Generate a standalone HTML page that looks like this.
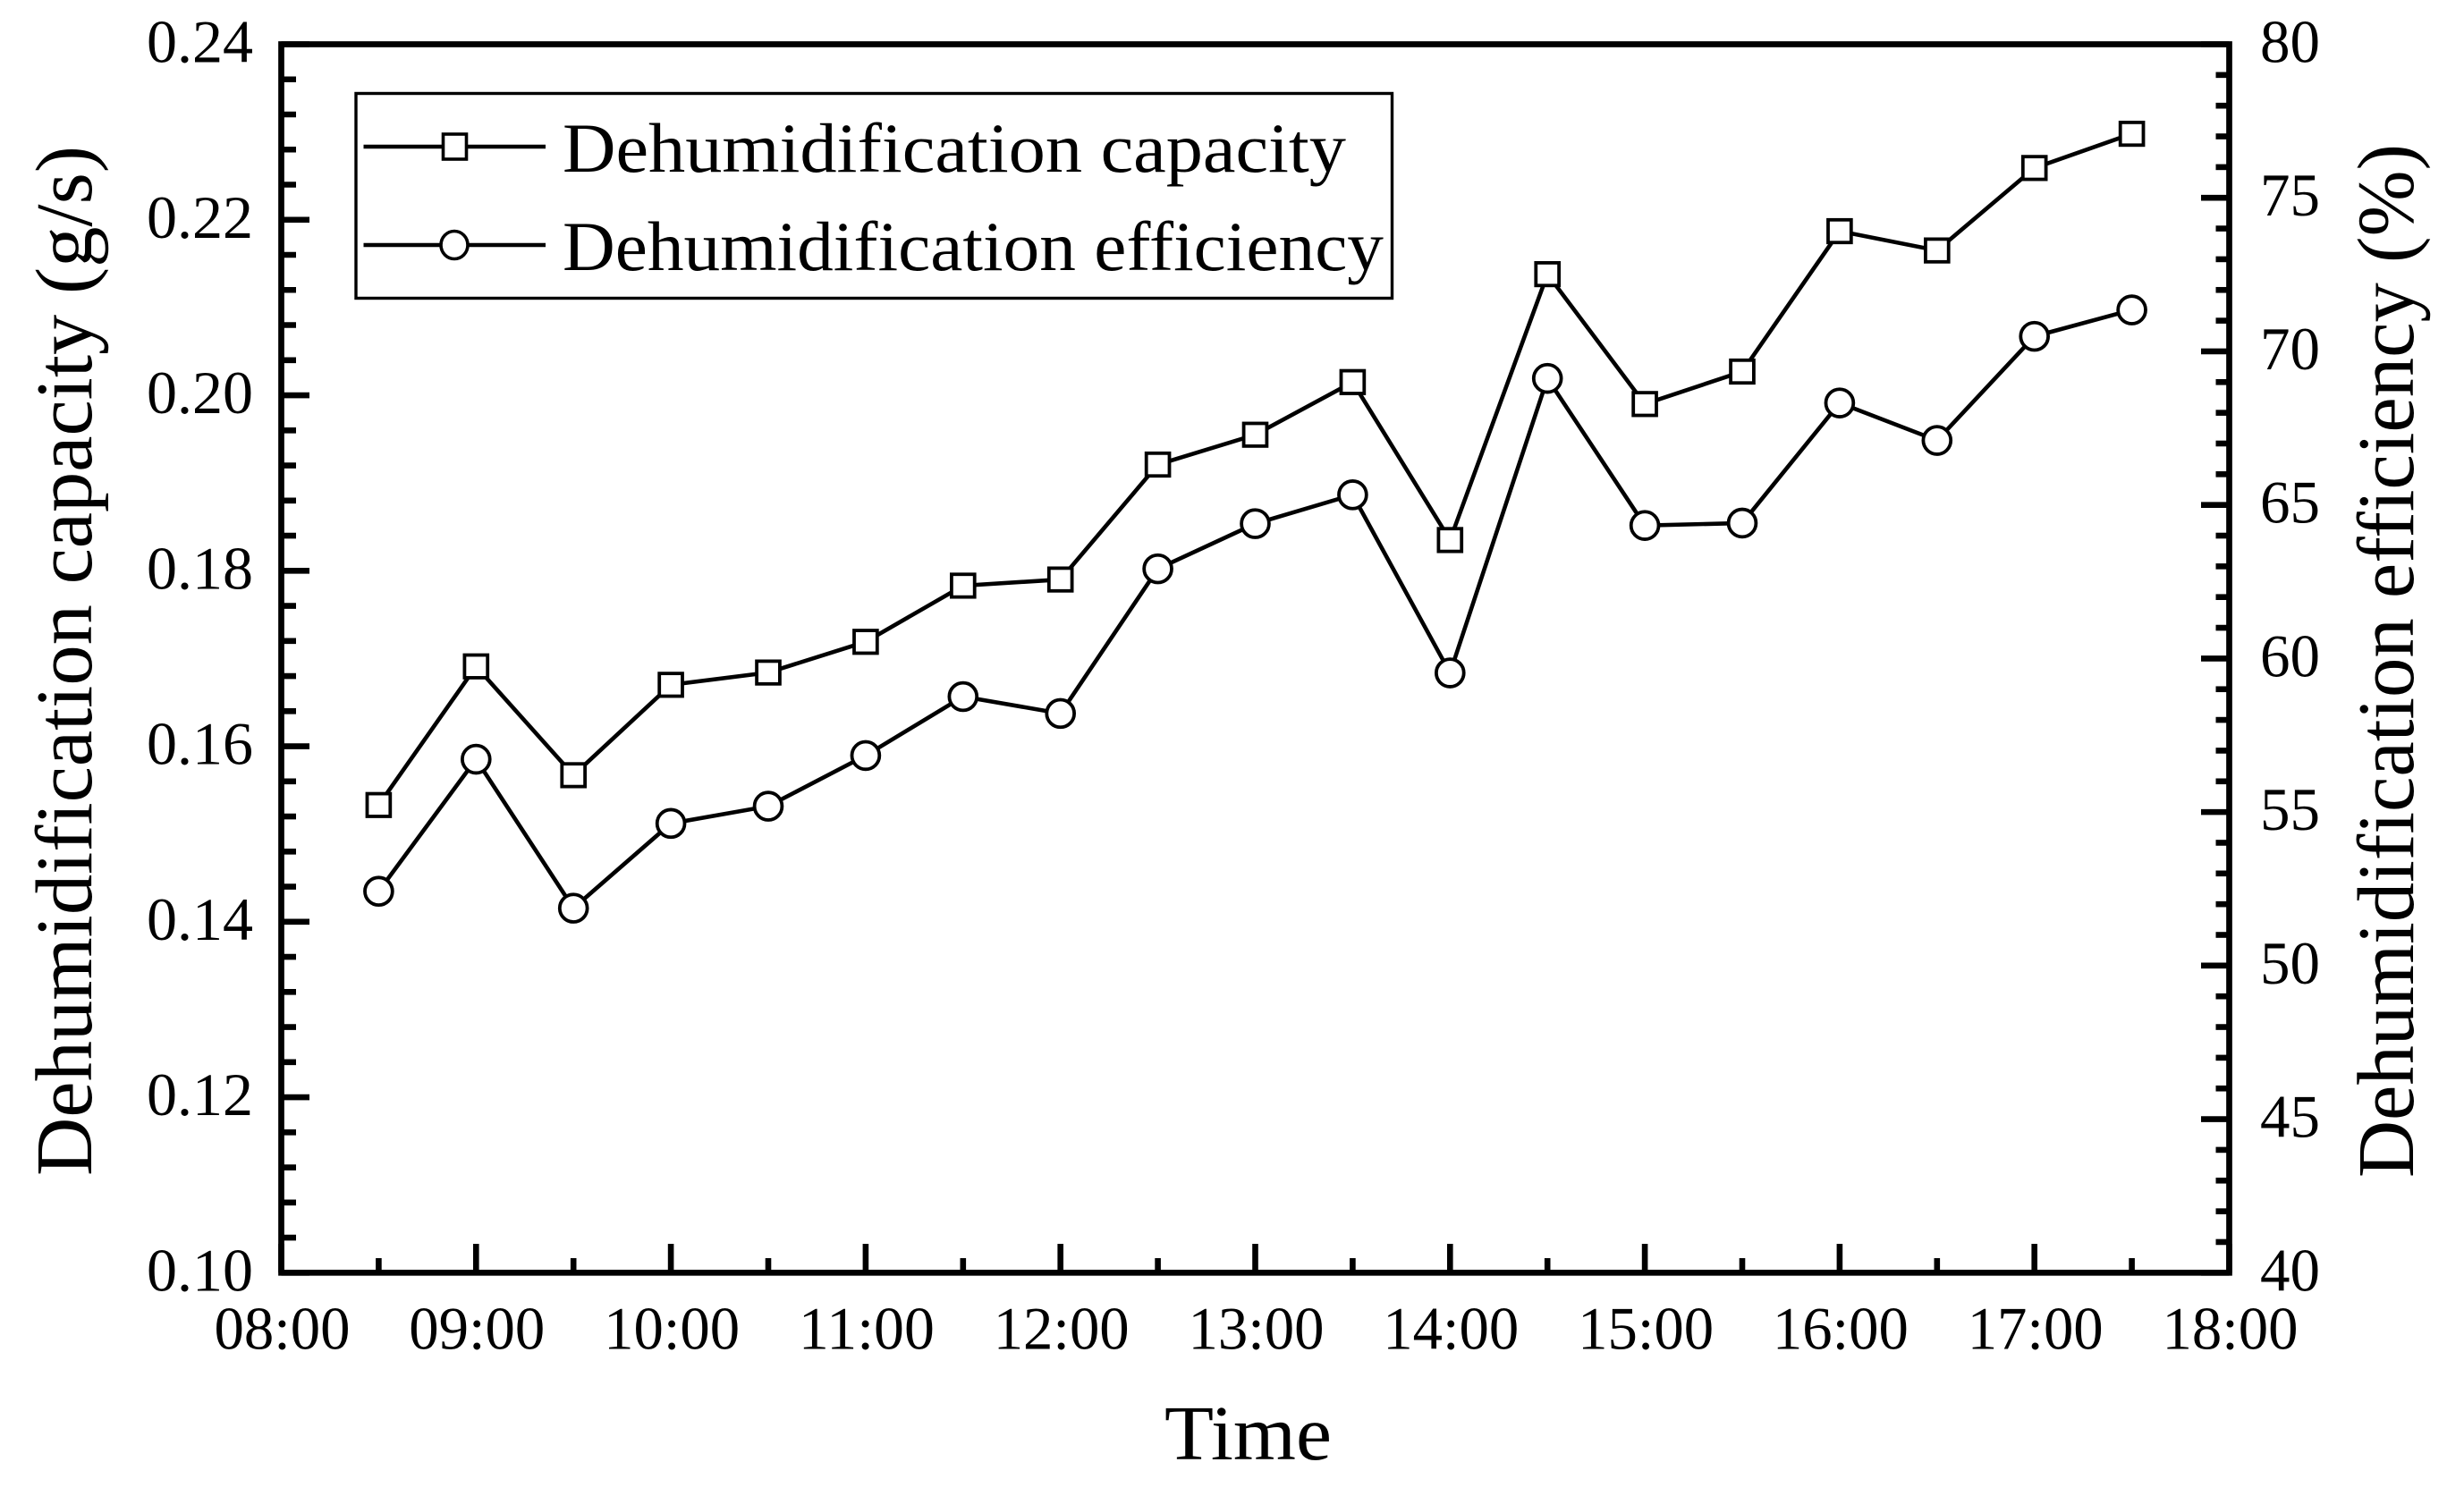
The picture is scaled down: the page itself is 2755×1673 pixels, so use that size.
<!DOCTYPE html>
<html lang="en">
<head>
<meta charset="utf-8">
<title>Dehumidification capacity and efficiency over time</title>
<style>
html,body{margin:0;padding:0;background:#fff;}
svg{display:block;}
text{font-family:"Liberation Serif",serif;fill:#000;}
</style>
</head>
<body>
<svg id="chart" xmlns="http://www.w3.org/2000/svg" width="2755" height="1673" viewBox="0 0 2755 1673">
  <rect x="0" y="0" width="2755" height="1673" fill="#fff"/>
  <g id="ticks"></g>
  <rect x="314.5" y="49.5" width="2178" height="1373.8" fill="none" stroke="#000" stroke-width="6.7"/>
  <g id="series"></g>
  <g id="labels"></g>
  <text x="1302" y="1632" font-size="87" textLength="187" lengthAdjust="spacingAndGlyphs">Time</text>
  <text transform="translate(102 1315) rotate(-90)" font-size="90" textLength="1152" lengthAdjust="spacingAndGlyphs">Dehumidification capacity (g/s)</text>
  <text transform="translate(2698 1317) rotate(-90)" font-size="90" textLength="1156" lengthAdjust="spacingAndGlyphs">Dehumidification efficiency (%)</text>
  <g>
    <rect x="398" y="104.5" width="1158.5" height="229" fill="#fff" stroke="#000" stroke-width="3.4"/>
    <line x1="406.5" y1="164" x2="610" y2="164" stroke="#000" stroke-width="4.6"/>
    <rect x="495.5" y="150" width="26" height="28" fill="#fff" stroke="#000" stroke-width="3.6"/>
    <text x="629" y="192" font-size="78" textLength="876" lengthAdjust="spacingAndGlyphs">Dehumidification capacity</text>
    <line x1="406.5" y1="274" x2="610" y2="274" stroke="#000" stroke-width="4.6"/>
    <ellipse cx="508" cy="274" rx="15" ry="15.5" fill="#fff" stroke="#000" stroke-width="3.6"/>
    <text x="629" y="302" font-size="78" textLength="918" lengthAdjust="spacingAndGlyphs">Dehumidification efficiency</text>
  </g>
</svg>
<script>
var timeCategories = ["08:30","09:00","09:30","10:00","10:30","11:00","11:30","12:00","12:30","13:00","13:30","14:00","14:30","15:00","15:30","16:00","16:30","17:00","17:30"];
var capacityValues = [0.1533,0.1691,0.1567,0.1670,0.1684,0.1719,0.1783,0.1790,0.1921,0.1955,0.2015,0.1835,0.2138,0.1990,0.2027,0.2187,0.2165,0.2259,0.2298];
var efficiencyValues = [52.42,56.72,51.87,54.63,55.19,56.84,58.76,58.21,62.92,64.39,65.33,59.53,69.12,64.33,64.41,68.32,67.10,70.49,71.35];
var xTickLabels = ["08:00","09:00","10:00","11:00","12:00","13:00","14:00","15:00","16:00","17:00","18:00"];
var leftTickLabels = ["0.10","0.12","0.14","0.16","0.18","0.20","0.22","0.24"];
var rightTickLabels = ["40","45","50","55","60","65","70","75","80"];

var NS = "http://www.w3.org/2000/svg";
var plotLeft = 314.5, plotRight = 2492.5, plotTop = 49.5, plotBottom = 1423.3;
var ticksG = document.getElementById("ticks");
var seriesG = document.getElementById("series");
var labelsG = document.getElementById("labels");

function hours(label){ var p = label.split(":"); return +p[0] + (+p[1]) / 60; }
var xMin = hours(xTickLabels[0]), xMax = hours(xTickLabels[xTickLabels.length - 1]);
var leftMin = +leftTickLabels[0], leftMax = +leftTickLabels[leftTickLabels.length - 1];
var rightMin = +rightTickLabels[0], rightMax = +rightTickLabels[rightTickLabels.length - 1];
function xScale(h){ return plotLeft + (h - xMin) / (xMax - xMin) * (plotRight - plotLeft); }
function leftScale(v){ return plotBottom - (v - leftMin) / (leftMax - leftMin) * (plotBottom - plotTop); }
function rightScale(v){ return plotBottom - (v - rightMin) / (rightMax - rightMin) * (plotBottom - plotTop); }

function drawTick(x1, y1, x2, y2, name){
  var el = document.createElementNS(NS, "line");
  el.setAttribute("x1", x1);
  el.setAttribute("y1", y1);
  el.setAttribute("x2", x2);
  el.setAttribute("y2", y2);
  el.setAttribute("stroke", "#000");
  el.setAttribute("stroke-width", "6.6");
  
  
  ticksG.appendChild(el);
}
function drawLabel(txt, x, y, anchor, length, name){
  var el = document.createElementNS(NS, "text");
  el.setAttribute("x", x);
  el.setAttribute("y", y);
  el.setAttribute("font-size", "68");
  el.setAttribute("text-anchor", anchor);
  el.setAttribute("textLength", length);
  el.setAttribute("lengthAdjust", "spacingAndGlyphs");
  el.textContent = txt;
  
  
  labelsG.appendChild(el);
}

// x axis ticks and labels
xTickLabels.forEach(function(label, i){
  var h = hours(label), x = xScale(h);
  drawTick(x, plotBottom, x, 1391, "x-major-tick");
  drawLabel(label, x + 1, 1508.5, "middle", 152, "x-tick-label");
  if (i < xTickLabels.length - 1) {
    var xm = xScale(h + (hours(xTickLabels[i + 1]) - h) / 2);
    drawTick(xm, plotBottom, xm, 1407, "x-minor-tick");
  }
});

// left y axis
leftTickLabels.forEach(function(label, i){
  var v = +label, y = leftScale(v);
  drawTick(plotLeft, y, 346, y, "left-y-major-tick");
  drawLabel(label, 164, y + 20, "start", 119, "left-y-tick-label");
  if (i < leftTickLabels.length - 1) {
    var step = (+leftTickLabels[i + 1] - v) / 5;
    for (var k = 1; k < 5; k++) {
      var ym = leftScale(v + k * step);
      drawTick(plotLeft, ym, 331, ym, "left-y-minor-tick");
    }
  }
});

// right y axis
rightTickLabels.forEach(function(label, i){
  var v = +label, y = rightScale(v);
  drawTick(plotRight, y, 2461, y, "right-y-major-tick");
  drawLabel(label, 2527, y + 20, "start", 67, "right-y-tick-label");
  if (i < rightTickLabels.length - 1) {
    var step = (+rightTickLabels[i + 1] - v) / 5;
    for (var k = 1; k < 5; k++) {
      var ym = rightScale(v + k * step);
      drawTick(plotRight, ym, 2477.5, ym, "right-y-minor-tick");
    }
  }
});

// capacity series (left axis, square markers)
var capPts = capacityValues.map(function(v, i){ return xScale(hours(timeCategories[i])) + "," + leftScale(v); }).join(" ");
var capLine = document.createElementNS(NS, "polyline");
capLine.setAttribute("points", capPts);
capLine.setAttribute("fill", "none");
capLine.setAttribute("stroke", "#000");
capLine.setAttribute("stroke-width", "4.6");


seriesG.appendChild(capLine);

// efficiency series (right axis, circle markers)
var effPts = efficiencyValues.map(function(v, i){ return xScale(hours(timeCategories[i])) + "," + rightScale(v); }).join(" ");
var effLine = document.createElementNS(NS, "polyline");
effLine.setAttribute("points", effPts);
effLine.setAttribute("fill", "none");
effLine.setAttribute("stroke", "#000");
effLine.setAttribute("stroke-width", "4.6");


seriesG.appendChild(effLine);

capacityValues.forEach(function(v, i){
  var cx = xScale(hours(timeCategories[i])), cy = leftScale(v);
  var el = document.createElementNS(NS, "rect");
  el.setAttribute("x", cx - 12.9);
  el.setAttribute("y", cy - 12.7);
  el.setAttribute("width", 25.8);
  el.setAttribute("height", 25.4);
  el.setAttribute("fill", "#fff");
  el.setAttribute("stroke", "#000");
  el.setAttribute("stroke-width", "3.8");
  
  
  seriesG.appendChild(el);
});

efficiencyValues.forEach(function(v, i){
  var cx = xScale(hours(timeCategories[i])), cy = rightScale(v);
  var el = document.createElementNS(NS, "circle");
  el.setAttribute("cx", cx);
  el.setAttribute("cy", cy);
  el.setAttribute("r", 15.4);
  el.setAttribute("fill", "#fff");
  el.setAttribute("stroke", "#000");
  el.setAttribute("stroke-width", "3.8");
  
  
  seriesG.appendChild(el);
});
</script>
</body>
</html>
